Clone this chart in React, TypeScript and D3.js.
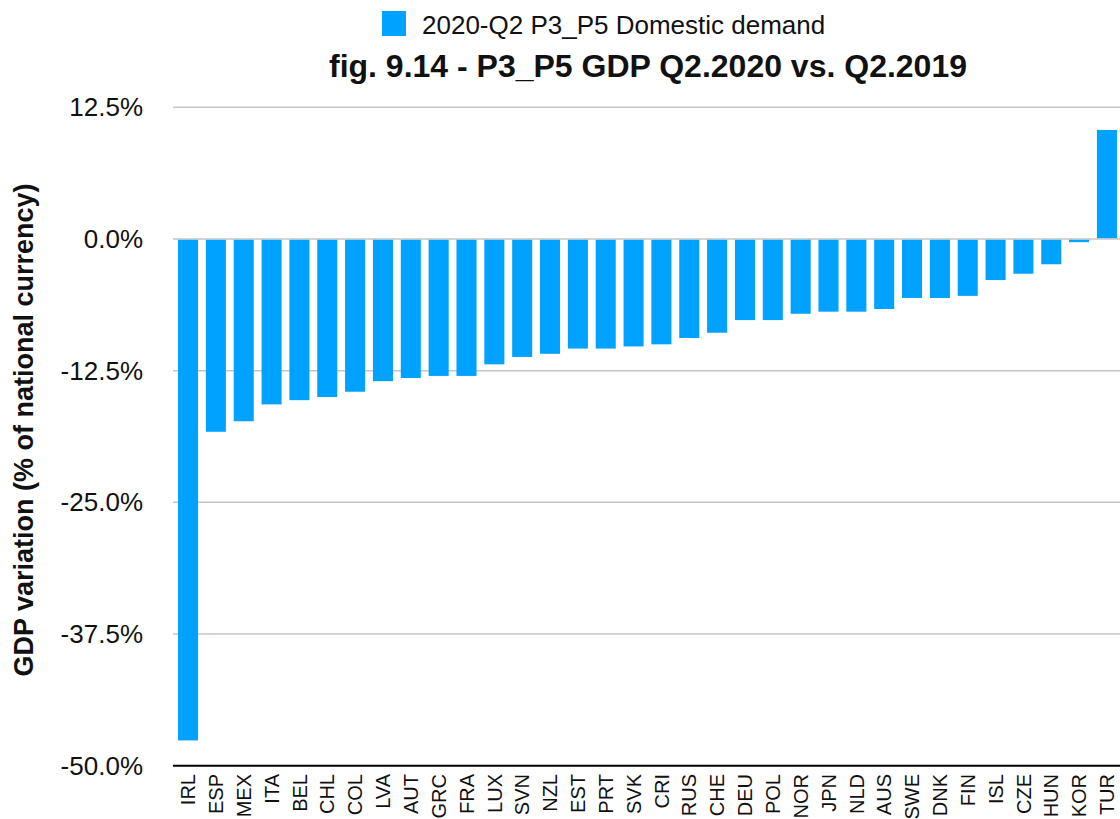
import * as d3 from "d3";

const countries = [
  "IRL", "ESP", "MEX", "ITA", "BEL", "CHL", "COL", "LVA", "AUT", "GRC", "FRA", "LUX",
  "SVN", "NZL", "EST", "PRT", "SVK", "CRI", "RUS", "CHE", "DEU", "POL", "NOR", "JPN",
  "NLD", "AUS", "SWE", "DNK", "FIN", "ISL", "CZE", "HUN", "KOR", "TUR",
];

const domesticDemand = [
  -47.6, -18.3, -17.3, -15.7, -15.3, -15.0, -14.5, -13.5, -13.2, -13.0, -13.0, -11.9,
  -11.2, -10.9, -10.4, -10.4, -10.2, -10.0, -9.4, -8.9, -7.7, -7.7, -7.1, -6.9,
  -6.9, -6.65, -5.6, -5.6, -5.4, -3.9, -3.3, -2.4, -0.3, 10.35,
];

const yTicks = [12.5, 0, -12.5, -25, -37.5, -50];

const seriesName = "2020-Q2 P3_P5 Domestic demand";
const title = "fig. 9.14 - P3_P5 GDP Q2.2020 vs. Q2.2019";
const yTitle = "GDP variation (% of national currency)";

const W = 1120;
const H = 819;
const BAR = "#00a2ff";
const FONT = "'Liberation Sans', Arial, Helvetica, sans-serif";

export default function App() {
  const x = d3.scaleBand<string>()
    .domain(countries)
    .range([173, 1122])
    .paddingInner(0.28)
    .paddingOuter(0.18);

  const y = d3.scaleLinear().domain([-50, 12.5]).range([765.7, 107.3]);

  return (
    <svg
      width={W}
      height={H}
      style={{ position: "absolute", left: 0, top: 0, background: "#fff" }}
      fontFamily={FONT}
    >
      {/* legend */}
      <rect x={382} y={11} width={24} height={25} fill={BAR} />
      <text x={422} y={34} fontSize={26} fill="#111">{seriesName}</text>

      {/* title */}
      <text x={648} y={77} fontSize={32} fontWeight="bold" textAnchor="middle" fill="#111">
        {title}
      </text>

      {/* grid lines */}
      {yTicks.filter(t => t !== -50).map(t => (
        <line key={t} x1={173} x2={W} y1={y(t)} y2={y(t)} stroke="#c6c6c6" strokeWidth={1.5} />
      ))}

      {/* tick labels */}
      {yTicks.map(t => (
        <text key={t} x={143} y={y(t)} dy="0.35em" fontSize={26} textAnchor="end" fill="#111">
          {t.toFixed(1)}%
        </text>
      ))}

      {/* bars */}
      {countries.map((c, i) => {
        const v = domesticDemand[i];
        const y0 = v < 0 ? y(0) + 0.8 : y(v);
        const h = Math.abs(y(v) - y(0)) - 0.8;
        return <rect key={c} x={x(c)} y={y0} width={x.bandwidth()} height={Math.max(0, h)} fill={BAR} />;
      })}

      {/* x axis line */}
      <line x1={173} x2={W} y1={y(-50)} y2={y(-50)} stroke="#000" strokeWidth={2} />

      {/* category labels */}
      {countries.map(c => {
        const cx = (x(c) ?? 0) + x.bandwidth() / 2;
        return (
          <text
            key={c}
            transform={`translate(${cx},${774}) rotate(-90)`}
            dy="0.36em"
            fontSize={20}
            textAnchor="end"
            fill="#111"
          >
            {c}
          </text>
        );
      })}

      {/* y axis title */}
      <text
        transform={`translate(33,430) rotate(-90)`}
        fontSize={27}
        fontWeight="bold"
        textAnchor="middle"
        fill="#111"
      >
        {yTitle}
      </text>
    </svg>
  );
}
